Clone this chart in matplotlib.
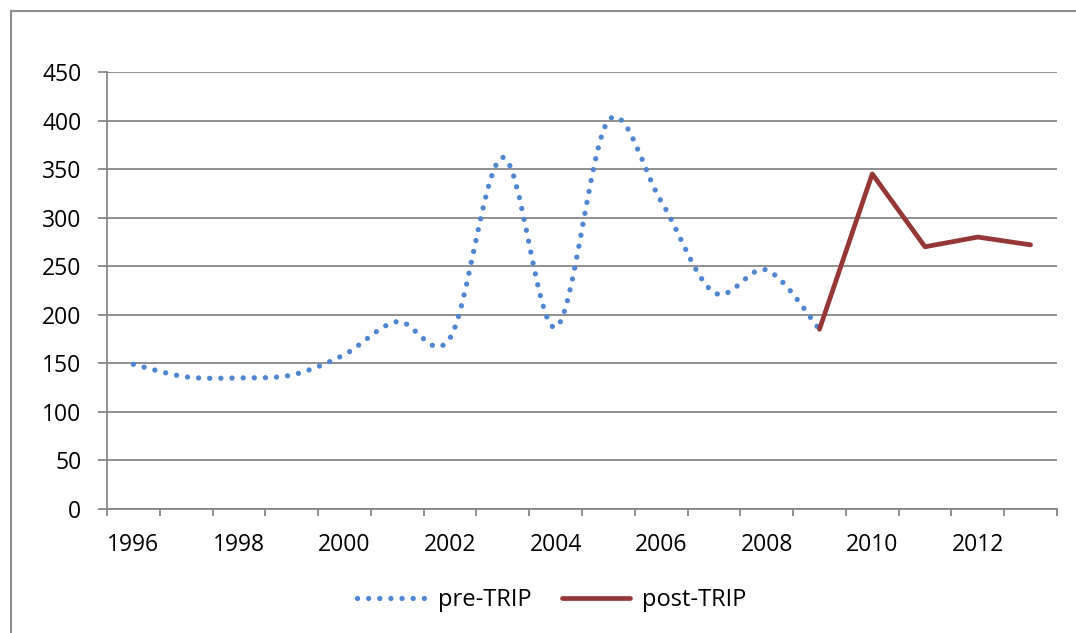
import numpy as np
import matplotlib.pyplot as plt
from matplotlib.path import Path
from matplotlib.patches import PathPatch, Rectangle
from matplotlib.lines import Line2D

plt.rcParams['font.family'] = ['Open Sans', 'DejaVu Sans']

# Yearly values
years = list(range(1996, 2014))
pre_years = list(range(1996, 2010))
pre_values = [149, 136, 135, 138, 159, 193, 176, 362, 187, 400, 317, 223, 246, 185]
post_years = list(range(2009, 2014))
post_values = [185, 345, 270, 280, 272]
y_ticks = [0, 50, 100, 150, 200, 250, 300, 350, 400, 450]

BLUE = '#4F86D2'
RED = '#953735'
GRID = '#878787'


def smooth_path(xs, ys):
    """Bezier path through the points, Catmull-Rom style control points."""
    pts = np.column_stack([xs, ys]).astype(float)
    verts = [pts[0]]
    codes = [Path.MOVETO]
    n = len(pts)
    for i in range(n - 1):
        p0 = pts[max(i - 1, 0)]
        p1 = pts[i]
        p2 = pts[i + 1]
        p3 = pts[min(i + 2, n - 1)]
        c1 = p1 + (p2 - p0) / 6.0
        c2 = p2 - (p3 - p1) / 6.0
        verts += [c1, c2, p2]
        codes += [Path.CURVE4] * 3
    return Path(verts, codes)


fig = plt.figure(figsize=(10.76, 6.33), dpi=100)
ax = fig.add_axes([0.0994, 0.1959, 0.8829, 0.6904])

# outer chart border (runs off the right and bottom edges)
fig.patches.append(Rectangle((11 / 1076, -0.1), 1.2, 1 - 11 / 633 + 0.1,
                             transform=fig.transFigure, fill=False,
                             edgecolor='#8c8c8c', linewidth=1.5))

# categories sit at the middle of each slot
pre_x = [years.index(y) + 0.5 for y in pre_years]
post_x = [years.index(y) + 0.5 for y in post_years]

pre_patch = PathPatch(smooth_path(pre_x, pre_values), fill=False,
                      edgecolor=BLUE, linewidth=3.8,
                      linestyle=(0, (0.01, 2.1)), capstyle='round', zorder=3)
ax.add_patch(pre_patch)
ax.plot(post_x, post_values, color=RED, linewidth=3.4,
        solid_capstyle='round', solid_joinstyle='round', zorder=4)

ax.set_xlim(0, len(years))
ax.set_ylim(0, 450)
ax.set_yticks(y_ticks)
ax.set_yticklabels([str(v) for v in y_ticks])
ax.set_xticks(range(len(years) + 1))
ax.set_xticklabels([])
ax.set_xticks([i + 0.5 for i in range(0, len(years), 2)], minor=True)
ax.set_xticklabels([str(years[i]) for i in range(0, len(years), 2)], minor=True)

ax.grid(axis='y', color=GRID, linewidth=1.3, zorder=1)
ax.set_axisbelow(True)
for side in ['top', 'right']:
    ax.spines[side].set_visible(False)
for side in ['left', 'bottom']:
    ax.spines[side].set_color(GRID)
    ax.spines[side].set_linewidth(1.3)

ax.tick_params(axis='y', which='major', direction='out', length=6.5,
               width=1.3, color=GRID, labelsize=16.5, pad=12)
ax.tick_params(axis='x', which='major', direction='out', length=5,
               width=1.3, color=GRID)
ax.tick_params(axis='x', which='minor', length=0, labelsize=16.5, pad=17)

handles = [Line2D([], [], color=BLUE, linewidth=3.8,
                  linestyle=(0, (0.01, 2.1)), dash_capstyle='round'),
           Line2D([], [], color=RED, linewidth=3.4, solid_capstyle='round')]
fig.legend(handles, ['pre-TRIP', 'post-TRIP'], loc='center',
           bbox_to_anchor=(0.513, 0.052), ncol=2, frameon=False,
           fontsize=17, handlelength=2.9, handletextpad=0.5,
           columnspacing=1.3)

fig.savefig('out.png', dpi=100)
